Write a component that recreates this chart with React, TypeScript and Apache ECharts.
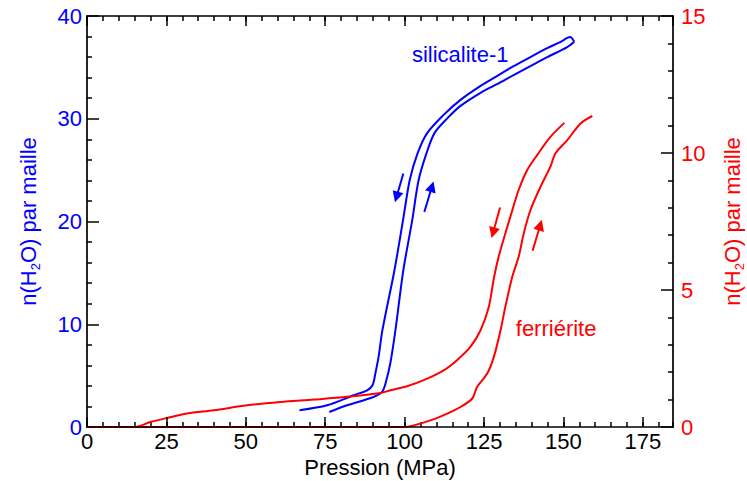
import React, { useEffect, useRef } from "react";
import * as echarts from "echarts";

// ---------- data ----------
const xTickStep = 25;
const xMax = 184.5;
const leftMax = 40;
const leftStep = 10;
const rightMax = 15;
const rightStep = 5;

// silicalite-1 (left axis), [pressure MPa, n(H2O)]
const silicaliteAdsorption: number[][] = [
  [76.3, 1.46], [81.9, 2.11], [90.2, 2.92], [92.9, 3.41], [94.0, 4.26],
  [95.5, 6.2], [97.1, 9.4], [99.6, 15.26], [102.4, 20.13], [104.4, 24.02],
  [106.9, 26.65], [109.4, 28.6], [113.5, 30.06], [117.5, 31.23], [124.8, 32.69],
  [129.1, 33.37], [134.3, 34.25], [139.6, 35.12], [144.9, 36.0], [151.2, 36.97],
  [153.4, 37.49],
];
const silicaliteDesorption: number[][] = [
  [153.4, 37.49], [152.1, 37.95], [149.0, 37.46], [144.9, 36.87], [139.6, 36.0],
  [134.3, 35.12], [129.1, 34.15], [123.8, 33.17], [117.5, 31.81], [112.2, 30.35],
  [107.1, 28.6], [104.1, 26.65], [101.6, 24.02], [99.5, 20.13], [96.8, 15.26],
  [93.0, 9.4], [91.8, 6.82], [90.8, 5.23], [89.9, 4.06], [88.2, 3.57],
  [83.9, 3.09], [75.6, 2.11], [66.9, 1.63],
];

// ferriérite (right axis)
const ferrieriteAdsorption: number[][] = [
  [0, 0], [99.7, 0], [102.9, 0.06], [108.1, 0.24], [113.4, 0.49], [117.6, 0.73],
  [121.3, 1.04], [122.8, 1.46], [126.0, 1.95], [128.1, 2.56], [130.2, 3.53],
  [131.7, 4.38], [133.9, 5.48], [135.9, 6.21], [137.5, 7.06], [139.6, 7.91],
  [142.8, 8.77], [145.9, 9.5], [147.5, 9.99], [151.2, 10.47], [155.4, 11.08],
  [159.1, 11.35],
];
const ferrieriteDesorption: number[][] = [
  [150.3, 11.1], [145.9, 10.59], [141.7, 9.92], [138.6, 9.38], [135.9, 8.65],
  [133.9, 7.91], [131.7, 7.06], [129.6, 6.21], [128.1, 5.43], [126.5, 4.38],
  [123.9, 3.53], [120.7, 2.92], [116.5, 2.44], [112.3, 2.07], [106.0, 1.71],
  [100.8, 1.49], [95.5, 1.34], [92.4, 1.24], [81.9, 1.1], [71.4, 1.0],
  [60.9, 0.91], [50.4, 0.79], [39.9, 0.61], [31.5, 0.49], [25.2, 0.33],
  [19.9, 0.18], [15.2, 0], [0, 0],
];

// direction arrows [start, end]
const blueArrowDown = [[99.6, 24.67], [97.45, 22.38]];
const blueArrowUp = [[106.2, 20.93], [108.6, 23.39]];
const redArrowDown = [[130.05, 8.01], [127.85, 7.09]];
const redArrowUp = [[140.3, 6.43], [142.7, 7.37]];

// curve labels
const silicaliteLabel = { name: "silicalite-1", coord: [117.5, 36.3] };
const ferrieriteLabel = { name: "ferriérite", coord: [147.7, 3.6] };

// ---------- styling ----------
const FONT = '"Liberation Sans", Arial, Helvetica, sans-serif';
const BLUE = "#0000ff";
const RED = "#ff0000";
const BLACK = "#000000";
const FS = 22;

const axisLineStyle = { color: BLACK, width: 1.7 };
const tickStyle = { color: BLACK, width: 1.5 };

function majorX(position: string, withLabels: boolean) {
  return {
    type: "value",
    position,
    z: 5,
    min: 0,
    max: xMax,
    interval: xTickStep,
    axisLine: { show: true, onZero: false, lineStyle: axisLineStyle },
    axisTick: { show: true, inside: true, length: 10, lineStyle: tickStyle },
    axisLabel: {
      show: withLabels,
      margin: 3,
      color: BLACK,
      fontSize: FS,
      fontFamily: FONT,
      showMaxLabel: false,
      formatter: (v: number) => (v % xTickStep === 0 ? String(v) : ""),
    },
    splitLine: { show: false },
    name: withLabels ? "Pression (MPa)" : "",
    nameLocation: "middle",
    nameGap: 27,
    nameTextStyle: { color: BLACK, fontSize: FS, fontFamily: FONT },
  };
}

function minorX(position: string) {
  return {
    type: "value",
    position,
    min: 0,
    max: xMax,
    interval: 5,
    axisLine: { show: false, onZero: false },
    axisTick: { show: true, inside: true, length: 5, lineStyle: tickStyle },
    axisLabel: { show: false },
    splitLine: { show: false },
  };
}

function yAxisDef(position: string, max: number, step: number, color: string) {
  return {
    type: "value",
    position,
    min: 0,
    max,
    interval: step,
    axisLine: { show: true, onZero: false, lineStyle: axisLineStyle },
    axisTick: { show: true, inside: true, length: 12, lineStyle: tickStyle },
    minorTick: { show: true, splitNumber: 5, length: 5, lineStyle: tickStyle },
    minorSplitLine: { show: false },
    splitLine: { show: false },
    axisLabel: {
      color,
      fontSize: FS,
      fontFamily: FONT,
      margin: position === "left" ? 5 : 8,
    },
    name: "{m|n(H}{s|2}{m|O) par maille}",
    nameLocation: "middle",
    nameRotate: 90,
    nameGap: 48,
    nameTextStyle: {
      color,
      fontSize: FS,
      fontFamily: FONT,
      rich: {
        m: {
          color,
          fontSize: FS,
          fontFamily: FONT,
          lineHeight: 22,
          verticalAlign: "top",
        },
        s: {
          color,
          fontSize: 13,
          fontFamily: FONT,
          lineHeight: 13,
          verticalAlign: "top",
          padding: [12, 0, 0, 0],
        },
      },
    },
  };
}

function arrowMarkLine(color: string, arrow: number[][]) {
  return {
    silent: true,
    animation: false,
    symbol: ["none", "triangle"],
    symbolSize: 11,
    label: { show: false },
    emphasis: { disabled: true },
    lineStyle: { color, width: 2, type: "solid" },
    data: [[{ coord: arrow[0] }, { coord: arrow[1] }]],
  };
}

function textMarkPoint(color: string, item: { name: string; coord: number[] }) {
  return {
    silent: true,
    animation: false,
    symbol: "circle",
    symbolSize: 1,
    itemStyle: { color: "rgba(0,0,0,0)" },
    label: {
      show: true,
      position: "inside",
      formatter: "{b}",
      color,
      fontSize: FS,
      fontFamily: FONT,
    },
    data: [{ name: item.name, coord: item.coord }],
  };
}

function curve(data: number[][], color: string, yAxisIndex: number, extra: any) {
  return {
    type: "line",
    xAxisIndex: 0,
    yAxisIndex,
    data,
    symbol: "none",
    showSymbol: false,
    smooth: 0.3,
    clip: false,
    lineStyle: { color, width: 2 },
    itemStyle: { color },
    emphasis: { disabled: true },
    ...extra,
  };
}

export default function App() {
  const ref = useRef<HTMLDivElement>(null);
  useEffect(() => {
    if (!ref.current) return;
    const chart = echarts.init(ref.current, undefined, { renderer: "svg" });
    chart.setOption({
      animation: false,
      backgroundColor: "#ffffff",
      textStyle: { fontFamily: FONT },
      grid: {
        left: 87,
        right: 74,
        top: 16,
        bottom: 54,
        containLabel: false,
        outerBoundsMode: "none",
      },
      xAxis: [majorX("bottom", true), majorX("top", false), minorX("bottom"), minorX("top")],
      yAxis: [
        yAxisDef("left", leftMax, leftStep, BLUE),
        yAxisDef("right", rightMax, rightStep, RED),
      ],
      series: [
        curve(silicaliteAdsorption, BLUE, 0, { markLine: arrowMarkLine(BLUE, blueArrowUp) }),
        curve(silicaliteDesorption, BLUE, 0, {
          markLine: arrowMarkLine(BLUE, blueArrowDown),
          markPoint: textMarkPoint(BLUE, silicaliteLabel),
        }),
        curve(ferrieriteAdsorption, RED, 1, { markLine: arrowMarkLine(RED, redArrowUp) }),
        curve(ferrieriteDesorption, RED, 1, {
          markLine: arrowMarkLine(RED, redArrowDown),
          markPoint: textMarkPoint(RED, ferrieriteLabel),
        }),
      ],
    });
    return () => chart.dispose();
  }, []);
  return (
    <div
      ref={ref}
      style={{ position: "fixed", left: 0, top: 0, width: 747, height: 481, background: "#fff" }}
    />
  );
}
